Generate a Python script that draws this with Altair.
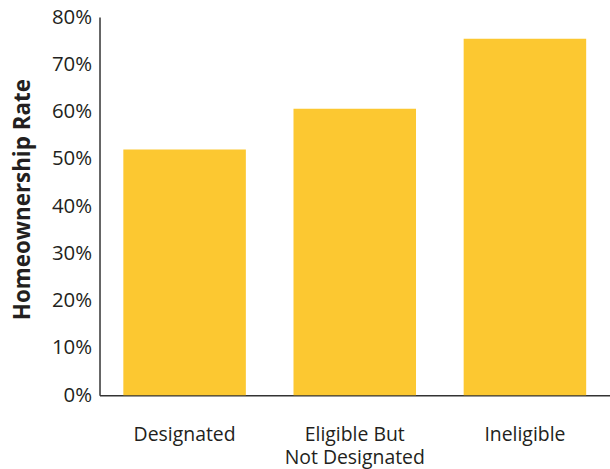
import altair as alt
import pandas as pd

categories = ["Designated", "Eligible But Not Designated", "Ineligible"]
rates = [0.52, 0.606, 0.754]

df = pd.DataFrame({"category": categories, "rate": rates})

FONT = "Open Sans"
TEXT = "#231f20"

chart = alt.Chart(df).mark_bar(color="#FCC831").encode(
    x=alt.X(
        "category:N",
        sort=categories,
        scale=alt.Scale(paddingInner=0.28, paddingOuter=0.14),
        axis=alt.Axis(
            title=None,
            labelAngle=0,
            labelFont=FONT,
            labelFontSize=19.5,
            labelColor=TEXT,
            labelPadding=31,
            labelLineHeight=23,
            labelBaseline="top",
            ticks=False,
            domainColor="#333333",
            domainWidth=1.5,
            labelExpr="datum.label == 'Eligible But Not Designated' ? ['Eligible But', 'Not Designated'] : datum.label",
        ),
    ),
    y=alt.Y(
        "rate:Q",
        scale=alt.Scale(domain=[0, 0.8], nice=False),
        axis=alt.Axis(
            title="Homeownership Rate",
            format=".0%",
            values=[0, 0.1, 0.2, 0.3, 0.4, 0.5, 0.6, 0.7, 0.8],
            grid=False,
            ticks=False,
            labelFont=FONT,
            labelFontSize=20.5,
            labelColor=TEXT,
            labelPadding=8,
            domainColor="#333333",
            domainWidth=1.5,
            titleFont=FONT,
            titleFontSize=22.5,
            titleFontWeight="bold",
            titleColor=TEXT,
            titleAngle=-90,
            titleX=-77,
            titleY=183,
            titleAlign="center",
            titleBaseline="middle",
        ),
    ),
).properties(
    width=513,
    height=380,
    autosize=alt.AutoSizeParams(type="none"),
    padding={"left": 100, "top": 16, "right": 0, "bottom": 73},
).configure_view(stroke=None)

chart.save("out.html", embed_options={"renderer": "svg", "actions": False})
